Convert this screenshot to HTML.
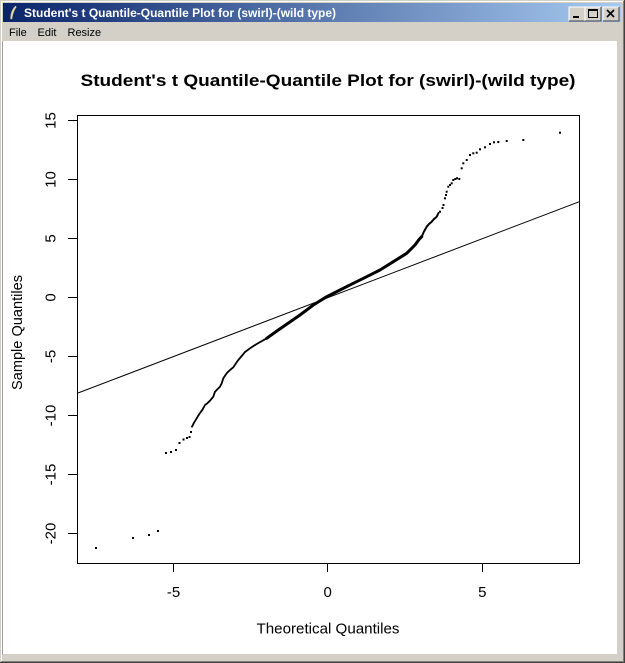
<!DOCTYPE html>
<html><head><meta charset="utf-8"><style>
html,body{margin:0;padding:0;background:#d4d0c8;}
svg{display:block;}
</style></head><body>
<svg width="625" height="663" viewBox="0 0 625 663" xmlns="http://www.w3.org/2000/svg">
<defs>
<linearGradient id="tb" x1="0" y1="0" x2="1" y2="0">
<stop offset="0" stop-color="#0a246a"/>
<stop offset="1" stop-color="#a6caf0"/>
</linearGradient>
</defs>
<rect x="0" y="0" width="625" height="663" fill="#d4d0c8"/>
<line x1="0" y1="0.5" x2="624" y2="0.5" stroke="#d4d0c8"/>
<line x1="1" y1="1.5" x2="623" y2="1.5" stroke="#ffffff"/>
<line x1="1.5" y1="1" x2="1.5" y2="661" stroke="#ffffff"/>
<line x1="0" y1="662.5" x2="625" y2="662.5" stroke="#404040"/>
<line x1="624.5" y1="0" x2="624.5" y2="663" stroke="#404040"/>
<line x1="1" y1="661.5" x2="624" y2="661.5" stroke="#808080"/>
<line x1="623.5" y1="1" x2="623.5" y2="662" stroke="#808080"/>
<rect x="3" y="3" width="618" height="19" fill="url(#tb)"/>
<path d="M15.5,6 C12,9 10.5,14 10.5,19 L12,19 C12.5,15 14,10 16.5,7 Z" fill="#e8dfb0" stroke="#b8a870" stroke-width="0.5"/>
<text x="24" y="17" font-family="Liberation Sans, sans-serif" font-size="12" font-weight="bold" fill="#ffffff" textLength="312" lengthAdjust="spacingAndGlyphs">Student's t Quantile-Quantile Plot for (swirl)-(wild type)</text>
<g font-family="Liberation Sans, sans-serif">
<rect x="569" y="7" width="16" height="14" fill="#d4d0c8"/>
<path d="M569,21 V7 H585" fill="none" stroke="#ffffff"/>
<path d="M569,21 H585 V7" fill="none" stroke="#404040"/>
<rect x="573" y="16" width="6" height="2" fill="#000"/>
<rect x="585" y="7" width="16" height="14" fill="#d4d0c8"/>
<path d="M585,21 V7 H601" fill="none" stroke="#ffffff"/>
<path d="M585,21 H601 V7" fill="none" stroke="#404040"/>
<rect x="588.5" y="9.5" width="9" height="8" fill="none" stroke="#000"/>
<line x1="588.5" y1="10.5" x2="597.5" y2="10.5" stroke="#000"/>
<rect x="603" y="7" width="16" height="14" fill="#d4d0c8"/>
<path d="M603,21 V7 H619" fill="none" stroke="#ffffff"/>
<path d="M603,21 H619 V7" fill="none" stroke="#404040"/>
<path d="M607,10 L614,17 M614,10 L607,17" stroke="#000" stroke-width="1.6"/>
</g>
<g font-family="Liberation Sans, sans-serif" font-size="11" fill="#000">
<text x="9" y="36">File</text>
<text x="37.5" y="36">Edit</text>
<text x="67.5" y="36">Resize</text>
</g>
<rect x="3" y="41" width="614" height="613" fill="#ffffff"/>
<line x1="2.5" y1="41" x2="2.5" y2="655" stroke="#a0a0a0"/>
<text x="328" y="86" text-anchor="middle" font-family="Liberation Sans, sans-serif" font-size="17" font-weight="bold" fill="#000" textLength="495" lengthAdjust="spacingAndGlyphs">Student's t Quantile-Quantile Plot for (swirl)-(wild type)</text>
<rect x="77.5" y="115.5" width="502" height="448" fill="none" stroke="#000" stroke-width="1"/>
<g stroke="#000" stroke-width="1">
<line x1="68" y1="120.5" x2="77" y2="120.5"/>
<line x1="68" y1="179.5" x2="77" y2="179.5"/>
<line x1="68" y1="238.5" x2="77" y2="238.5"/>
<line x1="68" y1="297.5" x2="77" y2="297.5"/>
<line x1="68" y1="356.5" x2="77" y2="356.5"/>
<line x1="68" y1="415.5" x2="77" y2="415.5"/>
<line x1="68" y1="474.5" x2="77" y2="474.5"/>
<line x1="68" y1="533.5" x2="77" y2="533.5"/>
<line x1="173.5" y1="564" x2="173.5" y2="572"/>
<line x1="327.5" y1="564" x2="327.5" y2="572"/>
<line x1="482.5" y1="564" x2="482.5" y2="572"/>
</g>
<g font-family="Liberation Sans, sans-serif" font-size="15" fill="#000" text-anchor="middle">
<text transform="translate(55.5,120.5) rotate(-90)">15</text>
<text transform="translate(55.5,179.5) rotate(-90)">10</text>
<text transform="translate(55.5,238.5) rotate(-90)">5</text>
<text transform="translate(55.5,297.5) rotate(-90)">0</text>
<text transform="translate(55.5,356.5) rotate(-90)">-5</text>
<text transform="translate(55.5,415.5) rotate(-90)">-10</text>
<text transform="translate(55.5,474.5) rotate(-90)">-15</text>
<text transform="translate(55.5,533.5) rotate(-90)">-20</text>
<text x="173.5" y="597">-5</text>
<text x="327.7" y="597">0</text>
<text x="482.3" y="597">5</text>
<text x="328" y="633.5" textLength="143" lengthAdjust="spacingAndGlyphs">Theoretical Quantiles</text>
<text transform="translate(22,332.5) rotate(-90)" textLength="115" lengthAdjust="spacingAndGlyphs">Sample Quantiles</text>
</g>
<line x1="78" y1="393" x2="579" y2="201.8" stroke="#000" stroke-width="1"/>
<polyline fill="none" stroke="#000" stroke-width="1.8" stroke-linejoin="round" stroke-linecap="round" points="192,426.7 194,422.7 196.7,418.3 199.3,414 202.7,409.3 205,405 207.3,403.3 210,400.7 213.3,396.7 215,391.7 216.7,390 220,386.7 221.7,383.3 223.3,378.3 226.7,373.3 230,370 233.3,367.3 236,363.3 238.3,360 241.7,356 245,352 250,348.3 256.7,344 266.7,338.3 278.3,330"/>
<polyline fill="none" stroke="#000" stroke-width="3" stroke-linejoin="round" stroke-linecap="round" points="266.7,338.3 278.3,330 300,315 313.3,305 326.7,296.7 340,290 353.3,283.3 366.7,276.7 380,270 393.3,261.7 406.7,253.3 415,245 419,239.5 421.7,236.7"/>
<polyline fill="none" stroke="#000" stroke-width="2" stroke-linejoin="round" stroke-linecap="round" points="421.7,236.7 424,231.5 426.7,226.7 429,224 431.7,221.7 434,219 436.7,216.7 438.5,213"/>
<g fill="#000">
<rect x="95" y="547" width="2" height="2"/>
<rect x="132" y="537" width="2" height="2"/>
<rect x="148" y="534" width="2" height="2"/>
<rect x="157" y="530" width="2" height="2"/>
<rect x="165" y="452" width="2" height="2"/>
<rect x="170" y="451" width="2" height="2"/>
<rect x="175" y="449" width="2" height="2"/>
<rect x="178.5" y="442" width="2" height="2"/>
<rect x="182.5" y="438.5" width="2" height="2"/>
<rect x="186" y="437" width="2" height="2"/>
<rect x="188.5" y="436" width="2" height="2"/>
<rect x="190" y="431" width="2" height="2"/>
<rect x="439" y="210.7" width="2" height="2"/>
<rect x="441.5" y="207" width="2" height="2"/>
<rect x="442.5" y="204" width="2" height="2"/>
<rect x="444" y="197.3" width="2" height="2"/>
<rect x="445" y="194" width="2" height="2"/>
<rect x="445.7" y="190.7" width="2" height="2"/>
<rect x="447.3" y="185.7" width="2" height="2"/>
<rect x="449" y="184" width="2" height="2"/>
<rect x="450.7" y="182.3" width="2" height="2"/>
<rect x="452.3" y="179" width="2" height="2"/>
<rect x="454.3" y="178" width="2" height="2"/>
<rect x="456" y="177.3" width="2" height="2"/>
<rect x="458.3" y="178" width="2" height="2"/>
<rect x="460.7" y="167.3" width="2" height="2"/>
<rect x="462.3" y="162.3" width="2" height="2"/>
<rect x="465.7" y="159" width="2" height="2"/>
<rect x="469" y="154" width="2" height="2"/>
<rect x="472.3" y="152.3" width="2" height="2"/>
<rect x="475.7" y="151.7" width="2" height="2"/>
<rect x="479" y="148.3" width="2" height="2"/>
<rect x="484" y="146.3" width="2" height="2"/>
<rect x="489" y="143" width="2" height="2"/>
<rect x="493" y="141.3" width="2" height="2"/>
<rect x="497.3" y="141" width="2" height="2"/>
<rect x="505.7" y="140" width="2" height="2"/>
<rect x="522.3" y="139" width="2" height="2"/>
<rect x="559" y="131.7" width="2" height="2"/>
</g>
</svg>
</body></html>
